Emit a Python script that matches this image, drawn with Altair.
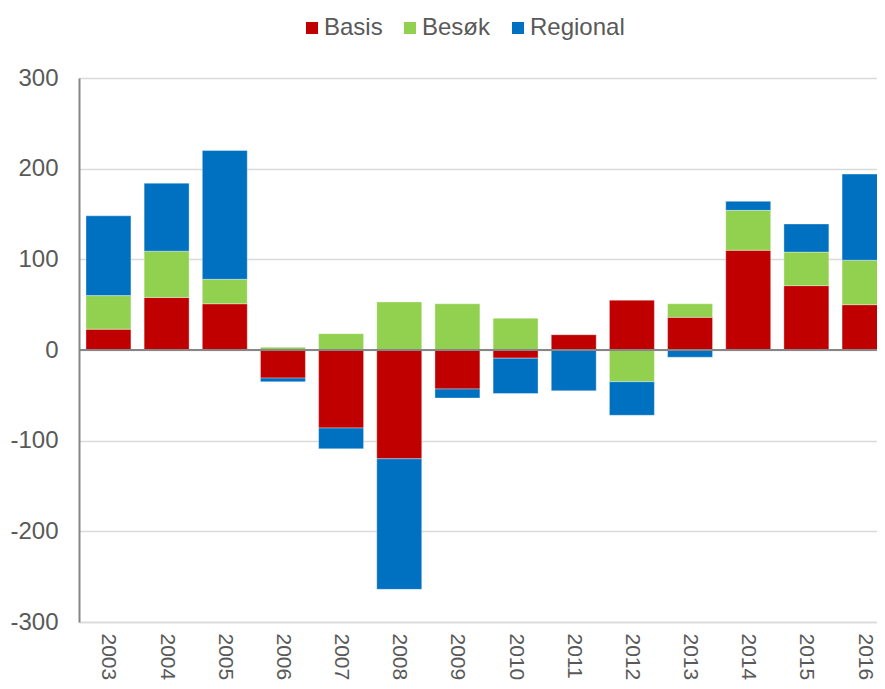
import altair as alt
import pandas as pd

years = ["2003", "2004", "2005", "2006", "2007", "2008", "2009",
         "2010", "2011", "2012", "2013", "2014", "2015", "2016"]
series = ["Basis", "Besøk", "Regional"]
basis = [23, 58, 51, -31, -86, -120, -43, -9, 17, 55, 36, 110, 71, 50]
besok = [37, 51, 27, 3, 18, 53, 51, 35, 0, -35, 15, 44, 37, 49]
regional = [88, 75, 142, -4, -23, -144, -10, -39, -45, -37, -8, 10, 31, 95]
colors = ["#C00000", "#92D050", "#0070C0"]
y_ticks = [-300, -200, -100, 0, 100, 200, 300]

rows = []
for i, yr in enumerate(years):
    for k, (s, vals) in enumerate(zip(series, [basis, besok, regional])):
        rows.append({"year": yr, "series": s, "value": vals[i], "order": k})
df = pd.DataFrame(rows)

FONT = "Liberation Sans"
TXT = "#595959"

bars = alt.Chart(df).mark_bar(stroke="white", strokeOpacity=0.35, strokeWidth=1).encode(
    x=alt.X("year:N", sort=years, title=None,
            scale=alt.Scale(paddingInner=0.227, paddingOuter=0.12, range=[0, 815]),
            axis=alt.Axis(labelAngle=90, labelAlign="left", labelBaseline="middle",
                          labelFontSize=21, labelColor=TXT, labelFont=FONT,
                          domainColor="#D9D9D9", domainWidth=1.5, ticks=False,
                          labelPadding=11)),
    y=alt.Y("value:Q", stack="zero", title=None,
            scale=alt.Scale(domain=[-300, 300], nice=False, zero=False),
            axis=alt.Axis(values=y_ticks, ticks=False, labelPadding=21,
                          labelExpr="'' + datum.value",
                          labelFontSize=24, labelColor=TXT, labelFont=FONT,
                          domainColor="#868686", domainWidth=2,
                          gridColor="#D9D9D9", gridWidth=1.5)),
    color=alt.Color("series:N", sort=series,
                    scale=alt.Scale(domain=series, range=colors),
                    legend=alt.Legend(orient="none", legendX=221, legendY=-62,
                                      direction="horizontal", title=None,
                                      symbolType="square", symbolSize=144,
                                      symbolStrokeWidth=0, labelFontSize=24,
                                      labelColor=TXT, labelFont=FONT,
                                      columnPadding=15, labelOffset=0)),
    order=alt.Order("order:Q"),
)

zero = alt.Chart(pd.DataFrame({"v": [0]})).mark_rule(color="#868686", strokeWidth=2).encode(
    y=alt.Y("v:Q")
)

chart = alt.layer(bars, zero).properties(
    width=798, height=544,
    autosize=alt.AutoSizeParams(type="none"),
    padding={"left": 71, "top": 70, "right": 0, "bottom": 59},
).configure_view(stroke=None).configure(font=FONT)

chart.save("out.html", embed_options={"renderer": "svg", "actions": False})
